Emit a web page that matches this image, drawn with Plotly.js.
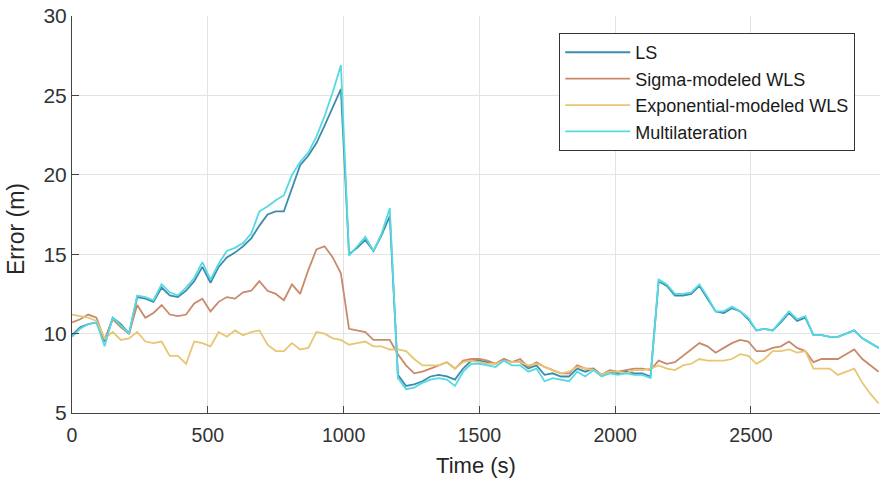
<!DOCTYPE html>
<html>
<head>
<meta charset="utf-8">
<script src="https://cdn.plot.ly/plotly-3.0.1.min.js"></script>
<style>
  html, body { margin: 0; padding: 0; background: #ffffff; }
  #chart { width: 882px; height: 480px; }
</style>
</head>
<body>
<div id="chart"></div>
<script>
// Sample times (s), one estimate every 30 s
const timeSec = [];
for (let t = 0; t <= 2970; t += 30) timeSec.push(t);

// Positioning error (m) for each estimator
const errLS = [
  9.9, 10.4, 10.6, 10.7, 9.5, 11.0, 10.6, 10.0, 12.3, 12.2,
  12.0, 12.9, 12.4, 12.3, 12.7, 13.3, 14.2, 13.2, 14.2, 14.8,
  15.1, 15.5, 16.0, 16.8, 17.5, 17.7, 17.7, 19.1, 20.6, 21.2,
  22.0, 23.1, 24.3, 25.4, 15.0, 15.4, 15.9, 15.2, 16.2, 17.4,
  7.4, 6.7, 6.8, 7.0, 7.3, 7.4, 7.3, 7.1, 7.8, 8.3,
  8.3, 8.2, 8.1, 8.4, 8.2, 8.2, 7.8, 8.0, 7.4, 7.5,
  7.3, 7.3, 7.8, 7.6, 7.8, 7.4, 7.6, 7.5, 7.6, 7.5,
  7.5, 7.3, 13.3, 13.0, 12.4, 12.4, 12.5, 13.0, 12.2, 11.4,
  11.3, 11.6, 11.4, 10.9, 10.2, 10.3, 10.2, 10.7, 11.3, 10.8,
  11.0, 9.9, 9.9, 9.8, 9.8, 10.0, 10.2, 9.7, 9.4, 9.1
];
const errSigmaWLS = [
  10.7, 10.9, 11.2, 11.0, 9.6, 10.9, 10.4, 10.0, 11.8, 11.0,
  11.3, 11.8, 11.2, 11.1, 11.2, 11.9, 12.2, 11.4, 12.0, 12.3,
  12.2, 12.6, 12.7, 13.3, 12.7, 12.5, 12.1, 13.1, 12.5, 14.0,
  15.3, 15.5, 14.8, 13.8, 10.3, 10.2, 10.1, 9.6, 9.6, 9.6,
  8.7, 8.0, 7.5, 7.6, 7.8, 8.0, 8.2, 7.8, 8.3, 8.4,
  8.4, 8.3, 8.1, 8.4, 8.2, 8.4, 7.9, 8.2, 7.9, 7.7,
  7.5, 7.5, 8.0, 7.8, 7.8, 7.4, 7.7, 7.6, 7.7, 7.8,
  7.8, 7.7, 8.3, 8.1, 8.2, 8.6, 9.0, 9.4, 9.2, 8.8,
  9.1, 9.4, 9.6, 9.5, 8.9, 8.9, 9.1, 9.2, 9.5, 9.1,
  8.9, 8.2, 8.4, 8.4, 8.4, 8.7, 9.0, 8.4, 8.0, 7.6
];
const errExpWLS = [
  11.2, 11.1, 11.0, 10.8, 9.7, 10.1, 9.6, 9.7, 10.1, 9.5,
  9.4, 9.5, 8.6, 8.6, 8.1, 9.5, 9.4, 9.2, 10.1, 9.8,
  10.2, 9.9, 10.1, 10.2, 9.3, 8.9, 8.9, 9.4, 9.0, 9.1,
  10.1, 10.0, 9.7, 9.6, 9.3, 9.4, 9.5, 9.2, 9.2, 9.0,
  9.0, 8.9, 8.4, 8.0, 8.0, 8.0, 8.2, 7.8, 8.2, 8.3,
  8.2, 8.1, 8.1, 8.3, 8.2, 8.2, 8.0, 8.1, 7.9, 7.7,
  7.5, 7.6, 7.9, 7.8, 7.7, 7.4, 7.6, 7.6, 7.5, 7.7,
  7.7, 7.8, 8.0, 7.8, 7.7, 8.0, 8.1, 8.4, 8.3, 8.3,
  8.3, 8.4, 8.7, 8.6, 8.1, 8.4, 8.9, 8.9, 9.0, 8.8,
  8.9, 7.8, 7.8, 7.8, 7.4, 7.6, 7.8, 6.9, 6.2, 5.6
];
const errMultilat = [
  9.8, 10.3, 10.6, 10.7, 9.2, 11.0, 10.5, 10.0, 12.4, 12.3,
  12.1, 13.1, 12.6, 12.4, 12.9, 13.5, 14.5, 13.4, 14.4, 15.2,
  15.4, 15.7, 16.3, 17.7, 18.0, 18.4, 18.7, 20.0, 20.8, 21.4,
  22.4, 23.7, 25.2, 26.9, 14.9, 15.5, 16.1, 15.2, 16.3, 17.9,
  7.2, 6.5, 6.6, 6.9, 7.1, 7.2, 7.1, 6.7, 7.6, 8.1,
  8.1, 8.0, 7.9, 8.3, 8.0, 8.0, 7.6, 7.8, 7.0, 7.2,
  7.1, 7.0, 7.6, 7.3, 7.7, 7.3, 7.5, 7.4, 7.5, 7.4,
  7.4, 7.2, 13.4, 13.1, 12.5, 12.5, 12.6, 13.1, 12.3, 11.4,
  11.4, 11.7, 11.4, 11.0, 10.2, 10.3, 10.2, 10.8, 11.4, 10.9,
  11.1, 9.9, 9.9, 9.8, 9.8, 10.0, 10.2, 9.7, 9.4, 9.1
];

const seriesNames = ['LS', 'Sigma-modeled WLS', 'Exponential-modeled WLS', 'Multilateration'];
const seriesValues = [errLS, errSigmaWLS, errExpWLS, errMultilat];
const seriesColors = ['#3d8cab', '#c98a6c', '#e9c673', '#55d9e2'];

const xTicks = [0, 500, 1000, 1500, 2000, 2500];
const yTicks = [5, 10, 15, 20, 25, 30];

const FONT = '"Liberation Sans", Arial, Helvetica, sans-serif';

const traces = seriesNames.map((name, i) => ({
  type: 'scatter',
  mode: 'lines',
  name: name,
  x: timeSec,
  y: seriesValues[i],
  line: { color: seriesColors[i], width: 1.8 },
  hoverinfo: 'x+y+name'
}));

const axisCommon = {
  ticks: 'inside',
  ticklen: 7,
  tickcolor: '#444444',
  tickwidth: 1,
  showline: true,
  linecolor: '#444444',
  linewidth: 1,
  showgrid: true,
  gridcolor: '#e3e3e3',
  gridwidth: 1,
  zeroline: false
};

const layout = {
  width: 882,
  height: 480,
  margin: { l: 72, r: 2, t: 16, b: 67, pad: 0 },
  paper_bgcolor: '#ffffff',
  plot_bgcolor: '#ffffff',
  font: { family: FONT, color: '#333333' },
  showlegend: true,
  xaxis: Object.assign({}, axisCommon, {
    range: [0, 2975],
    tickvals: xTicks,
    ticktext: xTicks.map(String),
    ticklabelstandoff: 5,
    tickfont: { family: FONT, size: 19.5, color: '#333333' },
    title: { text: 'Time (s)', font: { family: FONT, size: 22, color: '#262626' }, standoff: 12 }
  }),
  yaxis: Object.assign({}, axisCommon, {
    range: [5, 30],
    tickvals: yTicks,
    ticktext: yTicks.map(String),
    tickfont: { family: FONT, size: 21, color: '#333333' },
    title: { text: '' }
  }),
  annotations: [{
    text: 'Error (m)',
    xref: 'paper', yref: 'paper',
    x: -0.0693, y: 0.4635,
    xanchor: 'center', yanchor: 'middle',
    textangle: -90,
    showarrow: false,
    font: { family: FONT, size: 23, color: '#262626' }
  }],
  legend: {
    x: 0.603,
    y: 0.957,
    xanchor: 'left',
    yanchor: 'top',
    bgcolor: '#ffffff',
    bordercolor: '#333333',
    borderwidth: 1,
    itemwidth: 65,
    font: { family: FONT, size: 18, color: '#1a1a1a' },
    traceorder: 'normal'
  }
};

Plotly.newPlot('chart', traces, layout, { displayModeBar: false, staticPlot: true });
</script>
</body>
</html>
